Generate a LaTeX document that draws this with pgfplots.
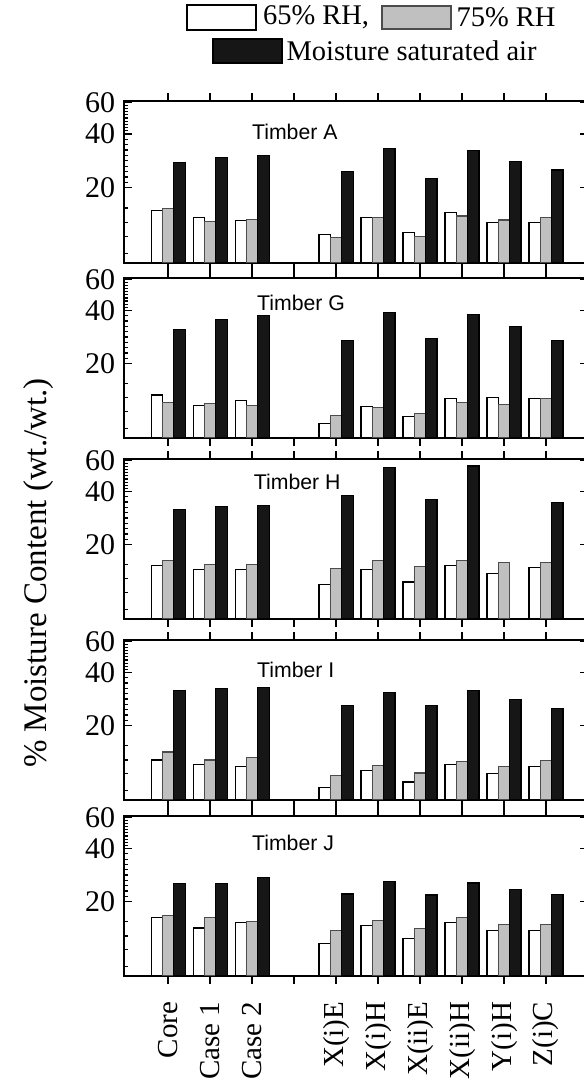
\documentclass[border=0pt]{standalone}
\usepackage{fontspec}
\setmainfont{Liberation Serif}
\newfontfamily\arial{Liberation Sans}
\usepackage{pgfplots}
\usepackage{pgfplotstable}
\pgfplotsset{compat=1.18}
\definecolor{lgray}{RGB}{192,192,192}
\definecolor{dblack}{RGB}{22,22,22}
\newcommand\lbl{\fontsize{12}{14}\selectfont}

% x: 0 Core, 1 Case 1, 2 Case 2, 4 X(i)E, 5 X(i)H, 6 X(ii)E, 7 X(ii)H, 8 Y(i)H, 9 Z(i)C
\pgfplotstableread{
x w g b
0 14.9 15.3 27.7
1 13.6 12.9 29.6
2 13.1 13.3 30.4
4 11.0 10.6 24.5
5 13.6 13.6 33.2
6 11.3 10.7 22.5
7 14.5 13.9 32.3
8 12.8 13.2 28.0
9 12.8 13.7 25.1
}\dataA
\pgfplotstableread{
x w g b
0 13.3 12.0 31.2
1 11.6 11.9 35.7
2 12.4 11.6 37.5
4 9.2 10.2 26.9
5 11.5 11.3 39.0
6 10.1 10.4 27.6
7 12.7 12.0 38.0
8 12.8 11.7 32.3
9 12.7 12.7 27.1
}\dataG
\pgfplotstableread{
x w g b
0 15.3 16.2 31.6
1 14.5 15.5 32.9
2 14.4 15.4 33.3
4 11.9 14.6 38.0
5 14.5 16.3 54.5
6 12.3 15.0 35.9
7 15.3 16.2 55.7
8 13.7 15.8 nan
9 14.9 15.9 34.7
}\dataH
\pgfplotstableread{
x w g b
0 12.8 14.2 31.6
1 12.0 12.8 32.6
2 11.8 13.2 33.0
4 8.9 10.4 25.9
5 11.2 11.9 30.7
6 9.6 10.8 25.9
7 12.0 12.6 31.7
8 10.7 11.7 28.2
9 11.8 12.7 25.1
}\dataI
\pgfplotstableread{
x w g b
0 16.3 16.7 25.4
1 14.2 16.2 25.4
2 15.2 15.5 27.3
4 11.6 13.7 22.1
5 14.6 15.6 25.9
6 12.4 14.1 21.8
7 15.3 16.3 25.5
8 13.8 14.8 23.4
9 13.8 14.9 22.0
}\dataJ

\pgfplotsset{
  every axis/.append style={
    scale only axis, width=185.6pt,
    xmin=-1.05, xmax=10.0, ymin=7.6, ymax=61,
    bar width=0.27,
    xtick={0,...,9},
    ytick={20,40,60}, yticklabels={20,40,60},
    minor ytick={8.6,10.7,12.8,15.4,21.44,22.97,24.62,26.39,28.28,30.31,32.49,34.82,37.32,41.66,43.38,45.17,47.04,48.99,51.02,53.13,55.33,57.62},
    tick align=inside,
    major tick length=3.2pt, minor tick length=1.6pt,
    axis line style={line width=0.7pt},
    tick style={black, line width=0.6pt},
    minor tick style={black, line width=0.45pt},
    tick label style={font=\lbl},
  },
}
\tikzset{
  mcwbar/.style={fill=white, draw=black, line width=0.45pt},
  mcgbar/.style={fill=lgray, draw=black!70, line width=0.45pt},
  mcbbar/.style={fill=dblack, draw=black, line width=0.45pt},
  mctimber/.style={anchor=west, font=\arial\fontsize{8.5}{10}\selectfont, inner sep=0pt},
}

\begin{document}
\begin{tikzpicture}
% Timber A
\begin{axis}[ymode=log, log origin=infty, ybar=0pt, height=64.8pt, xticklabels={},
  at={(49.6pt,392.8pt)}, anchor=north west]
\addplot[mcwbar] table[x=x,y=w]{\dataA};
\addplot[mcgbar] table[x=x,y=g]{\dataA};
\addplot[mcbbar] table[x=x,y=b]{\dataA};
\node[mctimber] at (rel axis cs:0.275,0.81) {Timber A};
\end{axis}
% Timber G
\begin{axis}[ymode=log, log origin=infty, ybar=0pt, height=64pt, xticklabels={},
  at={(49.6pt,322pt)}, anchor=north west]
\addplot[mcwbar] table[x=x,y=w]{\dataG};
\addplot[mcgbar] table[x=x,y=g]{\dataG};
\addplot[mcbbar] table[x=x,y=b]{\dataG};
\node[mctimber] at (rel axis cs:0.286,0.844) {Timber G};
\end{axis}
% Timber H
\begin{axis}[ymode=log, log origin=infty, ybar=0pt, height=64pt, xticklabels={},
  at={(49.6pt,249.6pt)}, anchor=north west]
\addplot[mcwbar] table[x=x,y=w]{\dataH};
\addplot[mcgbar] table[x=x,y=g]{\dataH};
\addplot[mcbbar] table[x=x,y=b]{\dataH};
\node[mctimber] at (rel axis cs:0.279,0.857) {Timber H};
\end{axis}
% Timber I
\begin{axis}[ymode=log, log origin=infty, ybar=0pt, height=64pt, xticklabels={},
  at={(49.6pt,177.2pt)}, anchor=north west]
\addplot[mcwbar] table[x=x,y=w]{\dataI};
\addplot[mcgbar] table[x=x,y=g]{\dataI};
\addplot[mcbbar] table[x=x,y=b]{\dataI};
\node[mctimber] at (rel axis cs:0.286,0.8125) {Timber I};
\end{axis}
% Timber J
\begin{axis}[ymode=log, log origin=infty, ybar=0pt, height=64pt,
  xticklabels={Core,Case 1,Case 2,,X(i)E,X(i)H,X(ii)E,X(ii)H,Y(i)H,Z(i)C},
  xticklabel style={rotate=90, anchor=east, font=\fontsize{11.6}{13}\selectfont},
  xticklabel shift=3.6pt,
  at={(49.6pt,106.8pt)}, anchor=north west]
\addplot[mcwbar] table[x=x,y=w]{\dataJ};
\addplot[mcgbar] table[x=x,y=g]{\dataJ};
\addplot[mcbbar] table[x=x,y=b]{\dataJ};
\node[mctimber] at (rel axis cs:0.275,0.831) {Timber J};
\end{axis}

% y label
\node[rotate=90, font=\fontsize{13.2}{15}\selectfont] at (15.6pt,204pt) {\% Moisture Content (wt./wt.)};

% legend
\draw[line width=0.45pt, fill=white] (74.8pt,421.2pt) rectangle (102.4pt,431.2pt);
\node[anchor=west, font=\fontsize{11.4}{13}\selectfont, inner sep=0pt] at (105pt,426.4pt) {65\% RH,};
\draw[line width=0.45pt, draw=black!70, fill=lgray] (152.8pt,421.6pt) rectangle (180.4pt,430.8pt);
\node[anchor=west, font=\fontsize{11.4}{13}\selectfont, inner sep=0pt] at (182.4pt,426.4pt) {75\% RH};
\draw[line width=0.45pt, fill=dblack] (85.2pt,408pt) rectangle (112.8pt,417.6pt);
\node[anchor=west, font=\fontsize{11.4}{13}\selectfont, inner sep=0pt] at (114.4pt,412.8pt) {Moisture saturated air};

\pgfresetboundingbox
\useasboundingbox (0,0) rectangle (233.2pt,433.2pt);
\end{tikzpicture}
\end{document}
